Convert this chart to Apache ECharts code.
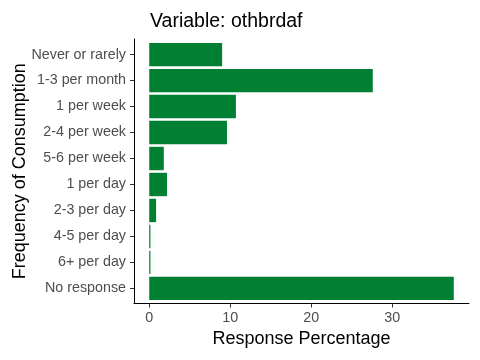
<!DOCTYPE html>
<html>
<head>
<meta charset="utf-8">
<script src="https://cdn.jsdelivr.net/npm/echarts@6/dist/echarts.min.js"></script>
<style>html,body{margin:0;padding:0;background:#fff;}#c{width:480px;height:360px;}</style>
</head>
<body>
<div id="c"></div>
<script>
const categories = ['Never or rarely','1-3 per month','1 per week','2-4 per week','5-6 per week','1 per day','2-3 per day','4-5 per day','6+ per day','No response'];
const values = [9.0, 27.6, 10.7, 9.6, 1.8, 2.2, 0.85, 0.15, 0.15, 37.6];
const xTicks = [0, 10, 20, 30];
const titleText = 'Variable: othbrdaf';
const xTitle = 'Response Percentage';
const yTitle = 'Frequency of Consumption';

const FONT = "'Liberation Sans', Arial, sans-serif";
const maxV = Math.max(...values);
const xMin = -0.05 * maxV, xMax = 1.05 * maxV;
const n = categories.length;
const catPositions = categories.map((_, i) => i + 1);

const chart = echarts.init(document.getElementById('c'), null, {renderer: 'canvas'});
chart.setOption({
  animation: false,
  backgroundColor: '#ffffff',
  title: {
    text: titleText, left: 145, top: 7,
    textStyle: {fontFamily: FONT, fontSize: 19.5, fontWeight: 'normal', color: '#000'}
  },
  grid: [
    {left: 134, right: 11, top: 41.6, bottom: 58.6, containLabel: false, outerBoundsMode: 'none'},
    {left: 134, right: 11, top: 39, bottom: 56.5, containLabel: false, outerBoundsMode: 'none'}
  ],
  xAxis: [
    {gridIndex: 0, type: 'value', min: xMin, max: xMax, show: false},
    {gridIndex: 1, type: 'value', min: xMin, max: xMax,
     splitLine: {show: false},
     axisLine: {show: true, onZero: false, lineStyle: {color: '#000', width: 1}},
     axisTick: {show: true, length: 4, lineStyle: {color: '#333'}, customValues: xTicks},
     axisLabel: {customValues: xTicks, margin: 8, color: '#4D4D4D', fontFamily: FONT, fontSize: 14.3},
     name: xTitle, nameLocation: 'middle', nameGap: 27, nameMoveOverlap: false,
     nameTextStyle: {fontFamily: FONT, fontSize: 18, color: '#000'}}
  ],
  yAxis: [
    {gridIndex: 0, type: 'category', data: categories, inverse: true, show: false},
    {gridIndex: 1, type: 'value', min: 1 - 0.6, max: n + 0.6, inverse: true,
     splitLine: {show: false},
     axisLine: {show: true, onZero: false, lineStyle: {color: '#000', width: 1}},
     axisTick: {show: true, length: 4, lineStyle: {color: '#333'}, customValues: catPositions},
     axisLabel: {customValues: catPositions, margin: 8, color: '#4D4D4D', fontFamily: FONT, fontSize: 14.3,
       formatter: v => categories[Math.round(v) - 1] || ''},
     name: yTitle, nameLocation: 'middle', nameGap: 105, nameRotate: 90, nameMoveOverlap: false,
     nameTextStyle: {fontFamily: FONT, fontSize: 18, color: '#000'}}
  ],
  series: [{
    type: 'bar', xAxisIndex: 0, yAxisIndex: 0,
    data: values, barWidth: '90%',
    itemStyle: {color: '#017F33'}
  }]
});
</script>
</body>
</html>
